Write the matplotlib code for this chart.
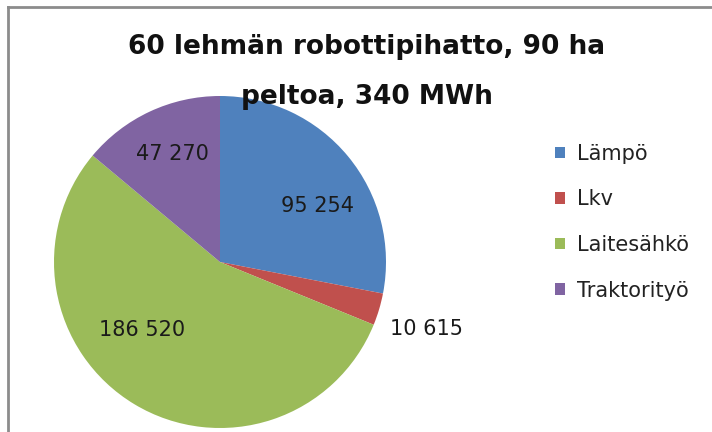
import matplotlib
matplotlib.use("Agg")
from matplotlib import pyplot as plt
from matplotlib.lines import Line2D
import numpy as np

categories = ["Lämpö", "Lkv", "Laitesähkö", "Traktorityö"]
values = [95254, 10615, 186520, 47270]
colors = ["#4F81BD", "#C0504D", "#9BBB59", "#8064A2"]
title_lines = ["60 lehmän robottipihatto, 90 ha", "peltoa, 340 MWh"]

# label placement: distance from centre (in radii) and clockwise angle from 12 o'clock
label_dist = [0.68, 1.31, 0.62, 0.71]
label_angle = [60, 108, 229, 336]

plt.rcParams['font.family'] = ['DejaVu Sans']

fig = plt.figure(figsize=(7.12, 4.32), dpi=100)
W, H = 712, 432

# pie: centre (220, 262) px, radius 166 px
cx, cy, r = 220, 262, 166
ax = fig.add_axes([(cx - r) / W, (H - cy - r) / H, 2 * r / W, 2 * r / H])
wedges, _ = ax.pie(values, colors=colors, startangle=90, counterclock=False,
                   radius=1, wedgeprops=dict(linewidth=0))
ax.set_xlim(-1, 1)
ax.set_ylim(-1, 1)
ax.set_aspect('auto')
ax.axis('off')

for v, d, a in zip(values, label_dist, label_angle):
    t = np.deg2rad(90 - a)
    txt = f"{v:,}".replace(",", " ")
    ax.text(d * np.cos(t), d * np.sin(t), txt, ha='center', va='center',
            fontsize=15, color='#1a1a1a', clip_on=False)

# two-line title, baselines at 54 and 104 px from the top
for line, base in zip(title_lines, [54, 104]):
    fig.text(367 / W, 1 - base / H, line, ha='center', va='baseline',
             fontsize=19, fontweight='bold', color='#111111')

leg = fig.legend(wedges, categories, loc='upper left',
                 bbox_to_anchor=(536 / W, 1 - 125 / H), frameon=False,
                 fontsize=15, handlelength=0.48, handleheight=0.48,
                 handletextpad=0.58, labelspacing=1.23)
for t in leg.get_texts():
    t.set_color('#222222')

# chart area border (top and left edges visible)
fig.add_artist(Line2D([8 / W, 1], [1 - 7 / H, 1 - 7 / H], color='#8c8c8c', lw=2))
fig.add_artist(Line2D([8 / W, 8 / W], [0, 1 - 7 / H], color='#8c8c8c', lw=2))

fig.savefig("out.png", dpi=100, facecolor='white')
